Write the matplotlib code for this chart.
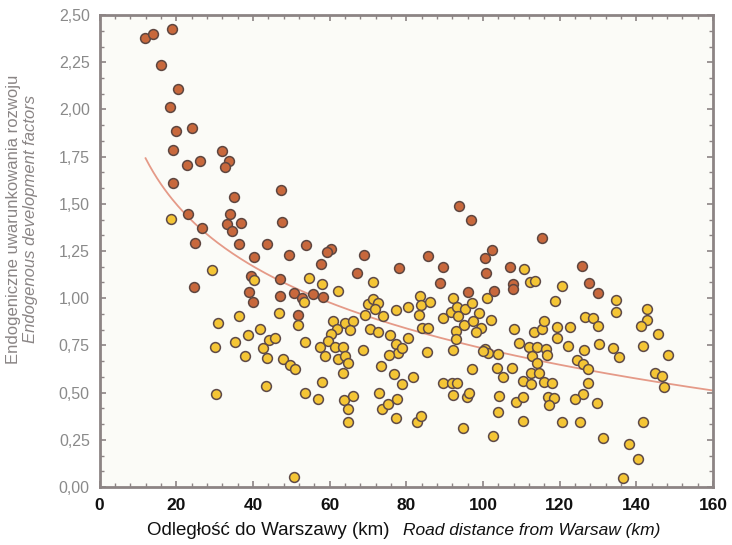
import numpy as np
import matplotlib
matplotlib.use("Agg")
import matplotlib.pyplot as plt
from matplotlib.ticker import MultipleLocator, FuncFormatter

plt.rcParams['font.family'] = ['Liberation Sans', 'DejaVu Sans']

# Municipalities with high endogenous factors (brown) and the rest (yellow)
high_x = [11.8, 13.9, 18.8, 16.1, 20.4, 18.5, 19.9, 24.2, 19.2, 32.0, 33.8, 32.7, 22.7, 26.1,
          19.2, 35.0, 34.1, 33.3, 36.8, 34.5, 23.2, 26.7, 24.9, 36.3, 40.4, 47.3, 47.7, 43.6,
          53.8, 49.4, 60.3, 59.4, 68.9, 93.8, 96.8, 115.4, 102.3, 100.5, 85.6, 24.6, 39.5, 38.9,
          40.0, 57.8, 67.1, 78.0, 47.1, 47.1, 50.6, 55.8, 58.2, 52.7, 51.7, 89.5, 100.8, 107.1,
          107.9, 107.8, 88.8, 96.0, 103.0, 125.8, 127.7, 130.1]
high_y = [2.377, 2.40, 2.426, 2.235, 2.108, 2.013, 1.887, 1.903, 1.785, 1.778, 1.728, 1.697, 1.705, 1.725,
          1.61, 1.536, 1.444, 1.395, 1.397, 1.356, 1.444, 1.373, 1.291, 1.285, 1.22, 1.573, 1.405, 1.285,
          1.28, 1.229, 1.262, 1.243, 1.229, 1.49, 1.414, 1.32, 1.257, 1.211, 1.223, 1.058, 1.119, 1.031,
          0.978, 1.181, 1.135, 1.158, 1.10, 1.012, 1.026, 1.024, 1.008, 1.003, 0.911, 1.167, 1.132, 1.167,
          1.074, 1.049, 1.079, 1.034, 1.038, 1.172, 1.079, 1.029]

low_x = [18.7, 29.4, 40.4, 36.4, 31.0, 38.7, 35.3, 30.2, 38.0, 30.4,
         54.6, 58.0, 62.1, 71.4, 53.3, 46.7, 51.7, 61.0, 64.0, 66.2, 62.0, 65.2, 60.4, 59.7, 57.5,
         61.5, 63.6, 58.8, 62.3, 63.9, 64.9, 63.4, 41.9, 44.1, 45.8, 42.7, 43.6, 47.9, 49.7, 51.0,
         53.6, 68.8, 70.6, 72.7, 69.2, 70.1, 71.4, 72.7, 71.9, 74.0, 77.3, 80.5, 75.8, 77.3, 77.9,
         78.8, 75.6, 73.4, 80.5, 76.9, 78.8, 43.5, 53.6, 56.9, 58.0, 63.8, 66.2, 64.9, 64.7, 72.9,
         73.6, 75.3, 77.5, 77.3, 50.8,
         110.7, 112.3, 113.6, 118.8, 83.6, 83.8, 86.2, 83.2, 89.7, 84.0, 85.8, 92.1, 91.7, 93.3,
         95.3, 97.1, 99.1, 93.6, 95.1, 97.5, 99.5, 98.2, 101.1, 102.1, 93.0, 93.0, 92.3, 85.5,
         108.0, 109.5, 111.9, 112.8, 114.2, 100.5, 101.4, 99.9, 103.9, 103.6, 105.2, 107.7, 97.1,
         113.4, 115.3, 115.8, 119.2, 119.2, 114.0, 116.4, 116.6, 112.5, 114.7, 110.5, 112.5, 115.8,
         117.9, 81.8, 89.5, 91.9, 93.2, 92.1, 95.8, 96.4, 104.3, 104.0, 108.6, 110.5, 117.1, 118.5,
         117.2, 110.5, 94.9, 102.7, 82.7, 83.9,
         120.6, 134.7, 134.6, 142.7, 142.7, 141.2, 145.7, 141.8, 148.4, 126.6, 128.6, 129.9, 122.7,
         122.3, 126.4, 130.4, 134.0, 135.5, 124.5, 126.2, 127.5, 127.5, 126.2, 124.0, 129.8, 144.9,
         146.6, 147.3, 120.6, 125.3, 141.8, 131.2, 138.1, 140.4, 136.5]
low_y = [1.42, 1.149, 1.096, 0.904, 0.87, 0.807, 0.768, 0.743, 0.696, 0.494,
         1.105, 1.075, 1.036, 1.084, 0.981, 0.923, 0.858, 0.879, 0.87, 0.879, 0.835, 0.832, 0.809, 0.775, 0.74,
         0.743, 0.743, 0.694, 0.676, 0.694, 0.658, 0.602, 0.837, 0.779, 0.788, 0.735, 0.682, 0.676, 0.646, 0.625,
         0.768, 0.726, 0.835, 0.823, 0.911, 0.969, 0.994, 0.973, 0.941, 0.907, 0.937, 0.955, 0.805, 0.757, 0.708,
         0.735, 0.699, 0.641, 0.791, 0.597, 0.546, 0.535, 0.496, 0.466, 0.555, 0.461, 0.484, 0.411, 0.344, 0.496,
         0.411, 0.438, 0.464, 0.367, 0.051,
         1.155, 1.084, 1.091, 0.987, 1.012, 0.964, 0.981, 0.911, 0.897, 0.844, 0.84, 1.003, 0.929, 0.955,
         0.941, 0.973, 0.92, 0.906, 0.858, 0.879, 0.844, 0.823, 1.0, 0.885, 0.826, 0.782, 0.726, 0.713,
         0.837, 0.764, 0.743, 0.694, 0.658, 0.729, 0.708, 0.72, 0.703, 0.632, 0.581, 0.629, 0.623,
         0.823, 0.837, 0.881, 0.849, 0.791, 0.74, 0.729, 0.699, 0.602, 0.602, 0.561, 0.546, 0.558,
         0.552, 0.581, 0.552, 0.552, 0.552, 0.487, 0.478, 0.5, 0.484, 0.399, 0.452, 0.475, 0.478, 0.47,
         0.434, 0.35, 0.314, 0.27, 0.346, 0.376,
         1.065, 0.99, 0.929, 0.941, 0.885, 0.854, 0.809, 0.748, 0.699, 0.902, 0.896, 0.853, 0.846,
         0.748, 0.726, 0.756, 0.735, 0.687, 0.673, 0.65, 0.625, 0.552, 0.493, 0.464, 0.443, 0.602,
         0.588, 0.528, 0.346, 0.346, 0.346, 0.258, 0.226, 0.148, 0.049]

x_ticks = [0, 20, 40, 60, 80, 100, 120, 140, 160]
y_ticks = [0.0, 0.25, 0.5, 0.75, 1.0, 1.25, 1.5, 1.75, 2.0, 2.25, 2.5]

# Logarithmic trend fitted to all municipalities
all_x = np.array(high_x + low_x)
all_y = np.array(high_y + low_y)
slope, intercept = np.polyfit(np.log(all_x), all_y, 1)
trend_x = np.linspace(12, 160, 300)
trend_y = intercept + slope * np.log(trend_x)

fig = plt.figure(figsize=(7.32, 5.45), dpi=100)
fig.patch.set_facecolor('white')
ax = fig.add_axes([0.136, 0.1064, 0.838, 0.866])
ax.set_facecolor('#fbfbf7')

ax.plot(trend_x, trend_y, color='#e59a88', lw=1.3, zorder=2)
ax.scatter(high_x, high_y, s=50, c='#c8683c', edgecolors='#5e4640', linewidths=1.1, zorder=3)
ax.scatter(low_x, low_y, s=50, c='#f4c535', edgecolors='#5e4a48', linewidths=1.1, zorder=4)

ax.set_xlim(0, 160)
ax.set_ylim(0, 2.5)
ax.set_xticks(x_ticks)
ax.set_yticks(y_ticks)
ax.xaxis.set_minor_locator(MultipleLocator(4))
ax.yaxis.set_minor_locator(MultipleLocator(0.25 / 3))
ax.yaxis.set_major_formatter(FuncFormatter(lambda v, p: f"{v:.2f}".replace('.', ',')))

spine_col = '#8c8484'
for s in ax.spines.values():
    s.set_color(spine_col)
    s.set_linewidth(2.0)
ax.tick_params(which='both', direction='in', top=True, right=True, color=spine_col)
ax.tick_params(which='major', length=4, width=1.2)
ax.tick_params(which='minor', length=3, width=1.0)
ax.tick_params(axis='x', labelsize=12.5, labelcolor='#111111', pad=8)
ax.tick_params(axis='y', labelsize=11.5, labelcolor='#8a8a8a', pad=7)
for lbl in ax.get_xticklabels():
    lbl.set_fontweight('bold')

fig.text(0.019, 0.598, 'Endogeniczne uwarunkowania rozwoju', rotation=90,
         ha='center', va='center', fontsize=12, color='#8a8585')
fig.text(0.041, 0.598, 'Endogenous development factors', rotation=90, style='italic',
         ha='center', va='center', fontsize=12, color='#8a8585')
fig.text(0.367, 0.027, 'Odległość do Warszawy (km)', ha='center', va='center',
         fontsize=13.5, color='#111111')
fig.text(0.727, 0.027, 'Road distance from Warsaw (km)', ha='center', va='center',
         fontsize=12.5, style='italic', color='#111111')

fig.savefig('out.png', dpi=100, facecolor='white')
